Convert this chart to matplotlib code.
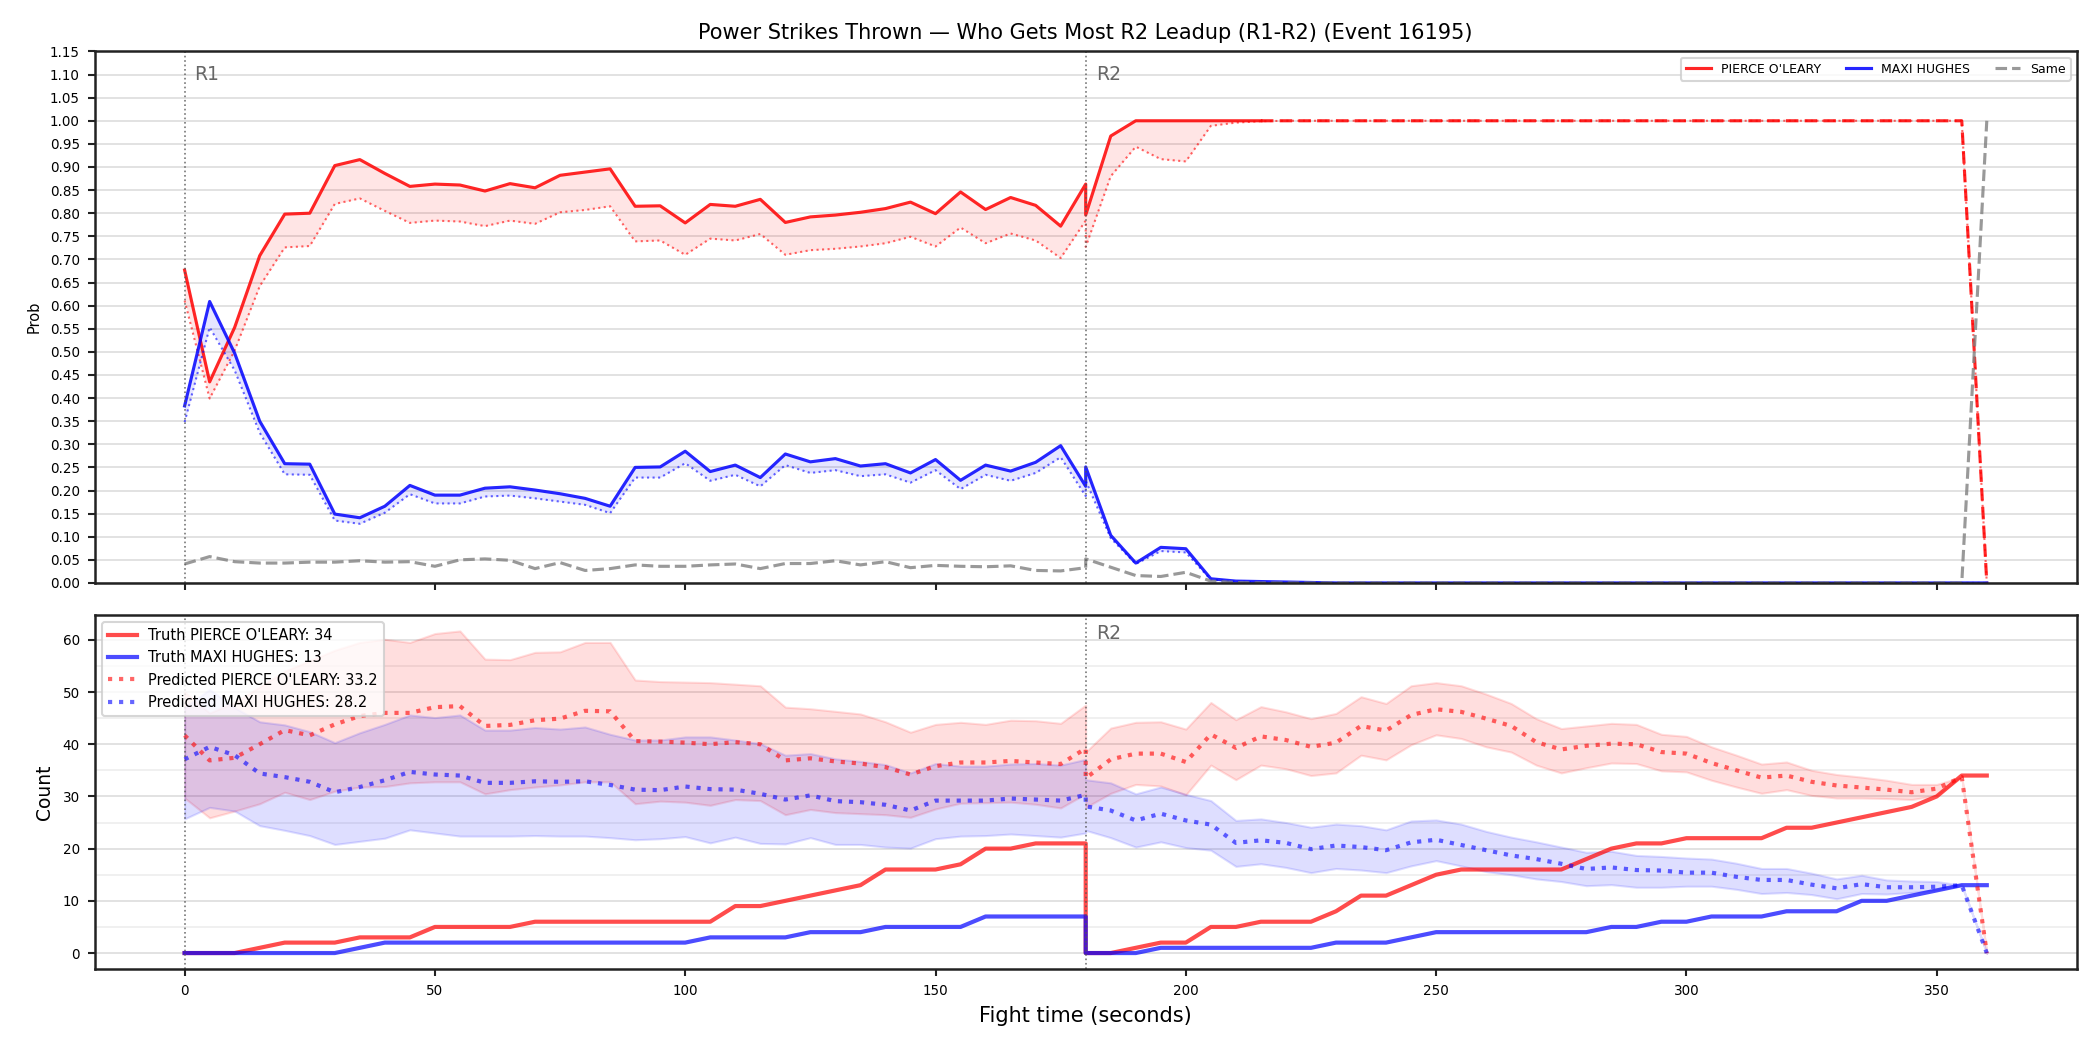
import numpy as np
import matplotlib
matplotlib.use("Agg")
import matplotlib.pyplot as plt
from matplotlib.ticker import MultipleLocator
import matplotlib.transforms as mtransforms

# ---- data -------------------------------------------------------------
t_r1 = np.arange(0, 181, 5)
t_r2 = np.arange(180, 361, 5)
round_starts = [0, 180]
round_names = ["R1", "R2"]

fighter_a = "PIERCE O'LEARY"
fighter_b = "MAXI HUGHES"

# win probability (top panel)
prob_a_r1 = [0.677, 0.435, 0.553, 0.708, 0.798, 0.800, 0.903, 0.916, 0.886, 0.858,
             0.863, 0.861, 0.848, 0.864, 0.855, 0.882, 0.889, 0.896, 0.815, 0.816,
             0.779, 0.819, 0.815, 0.830, 0.780, 0.792, 0.796, 0.802, 0.810, 0.824,
             0.799, 0.846, 0.808, 0.834, 0.817, 0.772, 0.863]
prob_a_r2 = [0.796, 0.967, 1.0, 1.0, 1.0, 1.0, 1.0, 1.0, 1.0, 1.0,
             1.0, 1.0, 1.0, 1.0, 1.0, 1.0, 1.0, 1.0, 1.0, 1.0,
             1.0, 1.0, 1.0, 1.0, 1.0, 1.0, 1.0, 1.0, 1.0, 1.0,
             1.0, 1.0, 1.0, 1.0, 1.0, 1.0, 0.0]
pred_a_r1 = [0.611, 0.399, 0.503, 0.642, 0.726, 0.729, 0.820, 0.832, 0.805, 0.779,
             0.784, 0.782, 0.772, 0.784, 0.777, 0.802, 0.807, 0.815, 0.739, 0.741,
             0.710, 0.745, 0.741, 0.755, 0.710, 0.720, 0.723, 0.728, 0.735, 0.749,
             0.728, 0.769, 0.735, 0.756, 0.741, 0.703, 0.784]
pred_a_r2 = [0.727, 0.880, 0.944, 0.917, 0.912, 0.989, 0.996, 0.999, 1.0, 1.0,
             1.0, 1.0, 1.0, 1.0, 1.0, 1.0, 1.0, 1.0, 1.0, 1.0,
             1.0, 1.0, 1.0, 1.0, 1.0, 1.0, 1.0, 1.0, 1.0, 1.0,
             1.0, 1.0, 1.0, 1.0, 1.0, 1.0, 0.0]
prob_b_r1 = [0.383, 0.609, 0.497, 0.350, 0.258, 0.257, 0.149, 0.141, 0.166, 0.211,
             0.190, 0.190, 0.205, 0.208, 0.201, 0.193, 0.183, 0.166, 0.250, 0.251,
             0.285, 0.241, 0.255, 0.228, 0.279, 0.262, 0.269, 0.253, 0.258, 0.238,
             0.267, 0.222, 0.255, 0.242, 0.261, 0.297, 0.209]
prob_b_r2 = [0.251, 0.103, 0.043, 0.077, 0.074, 0.009, 0.004, 0.003, 0.002, 0.001,
             0.0, 0.0, 0.0, 0.0, 0.0, 0.0, 0.0, 0.0, 0.0, 0.0,
             0.0, 0.0, 0.0, 0.0, 0.0, 0.0, 0.0, 0.0, 0.0, 0.0,
             0.0, 0.0, 0.0, 0.0, 0.0, 0.0, 0.0]
pred_b_r1 = [0.348, 0.553, 0.460, 0.325, 0.235, 0.234, 0.135, 0.128, 0.152, 0.192,
             0.172, 0.172, 0.187, 0.189, 0.183, 0.176, 0.169, 0.151, 0.228, 0.228,
             0.259, 0.221, 0.234, 0.209, 0.255, 0.238, 0.244, 0.231, 0.235, 0.217,
             0.244, 0.203, 0.234, 0.221, 0.238, 0.272, 0.188]
pred_b_r2 = [0.221, 0.097, 0.041, 0.069, 0.066, 0.007, 0.003, 0.001, 0.0, 0.0,
             0.0, 0.0, 0.0, 0.0, 0.0, 0.0, 0.0, 0.0, 0.0, 0.0,
             0.0, 0.0, 0.0, 0.0, 0.0, 0.0, 0.0, 0.0, 0.0, 0.0,
             0.0, 0.0, 0.0, 0.0, 0.0, 0.0, 0.0]
same_r1 = [0.041, 0.057, 0.046, 0.043, 0.043, 0.045, 0.045, 0.048, 0.045, 0.046,
           0.036, 0.050, 0.052, 0.049, 0.031, 0.044, 0.027, 0.031, 0.039, 0.036,
           0.036, 0.039, 0.041, 0.031, 0.042, 0.042, 0.048, 0.039, 0.046, 0.033,
           0.038, 0.036, 0.035, 0.037, 0.027, 0.026, 0.033]
same_r2 = [0.052, 0.034, 0.016, 0.014, 0.023, 0.004, 0.001, 0.0, 0.0, 0.0,
           0.0, 0.0, 0.0, 0.0, 0.0, 0.0, 0.0, 0.0, 0.0, 0.0,
           0.0, 0.0, 0.0, 0.0, 0.0, 0.0, 0.0, 0.0, 0.0, 0.0,
           0.0, 0.0, 0.0, 0.0, 0.0, 0.0, 1.0]
solid_until = 215  # after this the leader line is drawn dashed

# cumulative counts (bottom panel)
count_a_r1 = [0, 0, 0, 1, 2, 2, 2, 3, 3, 3, 5, 5, 5, 5, 6, 6, 6, 6, 6, 6, 6, 6,
              9, 9, 10, 11, 12, 13, 16, 16, 16, 17, 20, 20, 21, 21, 21]
count_a_r2 = [0, 0, 1, 2, 2, 5, 5, 6, 6, 6, 8, 11, 11, 13, 15, 16, 16, 16, 16, 16,
              18, 20, 21, 21, 22, 22, 22, 22, 24, 24, 25, 26, 27, 28, 30, 34, 34]
count_b_r1 = [0, 0, 0, 0, 0, 0, 0, 1, 2, 2, 2, 2, 2, 2, 2, 2, 2, 2, 2, 2, 2,
              3, 3, 3, 3, 4, 4, 4, 5, 5, 5, 5, 7, 7, 7, 7, 7]
count_b_r2 = [0, 0, 0, 1, 1, 1, 1, 1, 1, 1, 2, 2, 2, 3, 4, 4, 4, 4, 4, 4, 4,
              5, 5, 6, 6, 7, 7, 7, 8, 8, 8, 10, 10, 11, 12, 13, 13]

pcount_a_r1 = [41.7, 36.9, 37.4, 40.0, 42.7, 41.7, 43.8, 45.4, 46.0, 46.0, 47.1, 47.3,
               43.5, 43.7, 44.6, 44.9, 46.4, 46.3, 40.6, 40.5, 40.3, 40.0, 40.4, 40.0,
               36.9, 37.3, 36.7, 36.3, 35.6, 34.2, 35.8, 36.5, 36.5, 36.8, 36.5, 36.2, 39.2]
pcount_a_r2 = [33.5, 37.1, 38.2, 38.2, 36.6, 41.9, 39.3, 41.5, 40.8, 39.5, 40.3, 43.5,
               42.6, 45.6, 46.7, 46.2, 44.9, 43.5, 40.4, 39.0, 39.7, 40.1, 40.0, 38.5,
               38.2, 36.4, 35.0, 33.6, 34.0, 32.8, 32.1, 31.7, 31.3, 30.8, 31.5, 33.7, 0.0]
hi_a_r1 = [50.0, 46.0, 48.0, 51.0, 54.0, 56.0, 58.0, 59.5, 60.1, 59.5, 61.2, 61.7,
           56.3, 56.2, 57.6, 57.7, 59.5, 59.5, 52.3, 52.0, 51.9, 51.8, 51.5, 51.2,
           47.1, 46.8, 46.3, 45.8, 44.3, 42.3, 43.8, 44.2, 43.8, 44.6, 44.5, 44.0, 47.5]
hi_a_r2 = [38.5, 43.1, 44.2, 44.3, 42.9, 48.0, 44.7, 47.2, 46.2, 44.9, 45.9, 49.1,
           47.8, 51.2, 51.8, 51.2, 49.6, 47.8, 44.9, 43.0, 43.5, 44.0, 43.8, 41.9,
           41.5, 39.5, 37.9, 36.2, 36.6, 35.0, 34.2, 33.7, 33.1, 32.3, 32.3, 33.7, 0.0]
lo_a_r1 = [29.7, 25.9, 27.2, 28.6, 30.8, 29.4, 31.0, 31.8, 31.9, 32.6, 32.8, 32.8,
           30.5, 31.3, 31.8, 32.2, 32.8, 32.8, 28.6, 29.1, 28.9, 28.3, 29.4, 29.2,
           26.5, 27.5, 26.9, 26.7, 26.5, 26.0, 27.6, 28.7, 28.8, 28.9, 28.5, 27.8, 30.5]
lo_a_r2 = [27.9, 30.6, 32.3, 32.0, 30.3, 36.0, 33.2, 36.0, 35.3, 34.0, 34.5, 37.9,
           37.0, 39.9, 41.8, 41.1, 39.5, 38.5, 36.0, 34.5, 35.5, 36.4, 36.3, 34.9,
           34.7, 33.1, 31.8, 30.6, 31.3, 30.2, 29.7, 29.7, 29.6, 29.4, 30.2, 33.7, 0.0]

pcount_b_r1 = [37.1, 39.5, 37.9, 34.4, 33.7, 32.8, 30.8, 31.8, 33.1, 34.7, 34.2, 34.0,
               32.6, 32.6, 32.9, 32.8, 32.9, 32.2, 31.3, 31.2, 31.9, 31.4, 31.3, 30.5,
               29.4, 30.2, 29.1, 28.9, 28.4, 27.3, 29.2, 29.2, 29.2, 29.6, 29.4, 29.2, 30.3]
pcount_b_r2 = [28.1, 27.3, 25.4, 26.7, 25.4, 24.6, 21.1, 21.6, 21.1, 19.9, 20.6, 20.3,
               19.7, 21.2, 21.7, 20.7, 19.7, 18.7, 18.0, 17.1, 16.1, 16.4, 15.9, 15.8,
               15.4, 15.4, 14.6, 14.0, 14.0, 13.1, 12.4, 13.2, 12.6, 12.6, 12.7, 13.0, 0.0]
hi_b_r1 = [47.0, 50.5, 47.0, 44.3, 43.7, 42.4, 40.3, 42.2, 43.8, 45.6, 45.1, 45.6,
           42.7, 42.7, 43.2, 42.9, 43.3, 41.9, 40.8, 40.8, 41.4, 41.4, 40.8, 40.1,
           37.9, 38.2, 37.2, 36.7, 36.1, 34.5, 36.3, 35.8, 35.8, 36.2, 36.3, 36.0, 37.1]
hi_b_r2 = [33.2, 32.6, 30.5, 31.8, 30.4, 29.2, 25.4, 25.7, 25.0, 24.1, 24.7, 24.4,
           23.6, 25.3, 25.5, 24.7, 23.3, 22.2, 21.3, 20.3, 19.3, 19.5, 18.7, 18.5,
           18.2, 18.0, 17.2, 16.2, 16.2, 15.3, 14.2, 14.9, 14.0, 13.8, 13.7, 13.0, 0.0]
lo_b_r1 = [25.7, 27.9, 27.2, 24.4, 23.5, 22.5, 20.8, 21.4, 22.0, 23.6, 23.0, 22.4,
           22.4, 22.4, 22.5, 22.4, 22.4, 22.1, 21.7, 21.9, 22.3, 21.1, 22.2, 21.0,
           20.9, 22.1, 20.8, 20.8, 20.3, 20.1, 21.9, 22.4, 22.5, 22.8, 22.5, 22.2, 23.0]
lo_b_r2 = [23.5, 22.1, 20.3, 21.3, 20.2, 19.7, 16.6, 17.1, 16.4, 15.4, 16.2, 15.9,
           15.4, 16.7, 17.7, 16.7, 15.6, 15.0, 14.2, 13.7, 12.9, 13.1, 12.6, 12.6,
           12.8, 12.8, 12.2, 11.4, 11.6, 11.2, 10.4, 11.4, 11.3, 11.6, 12.1, 13.0, 0.0]

pred_total_a = 33.2
pred_total_b = 28.2

# ---- join rounds --------------------------------------------------------
t = np.concatenate([t_r1, t_r2])
def join(a, b):
    return np.concatenate([np.asarray(a, float), np.asarray(b, float)])

prob_a, pred_a = join(prob_a_r1, prob_a_r2), join(pred_a_r1, pred_a_r2)
prob_b, pred_b = join(prob_b_r1, prob_b_r2), join(pred_b_r1, pred_b_r2)
same = join(same_r1, same_r2)
count_a, count_b = join(count_a_r1, count_a_r2), join(count_b_r1, count_b_r2)
pcount_a, pcount_b = join(pcount_a_r1, pcount_a_r2), join(pcount_b_r1, pcount_b_r2)
hi_a, lo_a = join(hi_a_r1, hi_a_r2), join(lo_a_r1, lo_a_r2)
hi_b, lo_b = join(hi_b_r1, hi_b_r2), join(lo_b_r1, lo_b_r2)

RED, BLUE, GREY = "red", "blue", "grey"

fig, (ax1, ax2) = plt.subplots(2, 1, figsize=(14, 7), dpi=150, sharex=True,
                               gridspec_kw={"height_ratios": [1.5, 1]})
fig.subplots_adjust(left=0.045, right=0.989, top=0.951, bottom=0.077, hspace=0.072)

# ---- top: probability -------------------------------------------------
n_solid = len(t_r1) + np.searchsorted(t_r2, solid_until) + 1
ax1.plot(t[:n_solid], prob_a[:n_solid], color=RED, lw=1.5, alpha=0.85,
         label=fighter_a)
ax1.plot(t[n_solid - 1:], prob_a[n_solid - 1:], color=RED, lw=1.5, alpha=0.85,
         ls=(0, (4, 2)))
ax1.plot(t, pred_a, color=RED, lw=1.0, alpha=0.6, ls=":")
ax1.fill_between(t, prob_a, pred_a, color=RED, alpha=0.1, lw=0)
ax1.plot(t, prob_b, color=BLUE, lw=1.5, alpha=0.85, label=fighter_b)
ax1.plot(t, pred_b, color=BLUE, lw=1.0, alpha=0.6, ls=":")
ax1.fill_between(t, prob_b, pred_b, color=BLUE, alpha=0.1, lw=0)
ax1.plot(t, same, color=GREY, lw=1.5, alpha=0.8, ls="--", label="Same")

ax1.set_ylim(0, 1.15)
ax1.yaxis.set_major_locator(MultipleLocator(0.05))
ax1.set_ylabel("Prob", fontsize=7)
ax1.set_title("Power Strikes Thrown \u2014 Who Gets Most R2 Leadup (R1-R2) (Event 16195)",
              fontsize=10)
ax1.legend(loc="upper right", ncol=3, fontsize=6)

# ---- bottom: counts -----------------------------------------------------
ax2.fill_between(t, lo_a, hi_a, color=RED, alpha=0.13, lw=1)
ax2.fill_between(t, lo_b, hi_b, color=BLUE, alpha=0.13, lw=1)
ax2.plot(t, count_a, color=RED, lw=2, alpha=0.7,
         label=f"Truth {fighter_a}: {int(count_a[-1])}")
ax2.plot(t, count_b, color=BLUE, lw=2, alpha=0.7,
         label=f"Truth {fighter_b}: {int(count_b[-1])}")
ax2.plot(t, pcount_a, color=RED, lw=2, alpha=0.6, ls=":",
         label=f"Predicted {fighter_a}: {pred_total_a}")
ax2.plot(t, pcount_b, color=BLUE, lw=2, alpha=0.6, ls=":",
         label=f"Predicted {fighter_b}: {pred_total_b}")

ax2.yaxis.set_major_locator(MultipleLocator(10))
ax2.yaxis.set_minor_locator(MultipleLocator(5))
ax2.set_ylabel("Count", fontsize=9)
ax2.set_xlabel("Fight time (seconds)", fontsize=10)
ax2.legend(loc="upper left", fontsize=7)

# ---- shared styling -----------------------------------------------------
for ax in (ax1, ax2):
    for x0 in round_starts:
        ax.axvline(x0, color="#555555", lw=0.8, ls=":", alpha=0.8)
    ax.grid(axis="y", which="major", color="#dddddd", lw=0.8)
    for sp in ax.spines.values():
        sp.set_linewidth(1.2)
        sp.set_color("#222222")
    ax.tick_params(labelsize=6.5, width=1.0, color="#222222")
    ax.set_axisbelow(True)
ax2.grid(axis="y", which="minor", color="#eeeeee", lw=0.8)
ax2.tick_params(which="minor", length=0)

trans1 = mtransforms.blended_transform_factory(ax1.transData, ax1.transAxes)
for x0, name in zip(round_starts, round_names):
    ax1.text(x0 + 2, 0.975, name, transform=trans1, va="top", ha="left",
             fontsize=9, color="#666666")
trans2 = mtransforms.blended_transform_factory(ax2.transData, ax2.transAxes)
ax2.text(round_starts[1] + 2, 0.975, round_names[1], transform=trans2, va="top",
         ha="left", fontsize=9, color="#666666")

fig.savefig("out.png", dpi=150)
